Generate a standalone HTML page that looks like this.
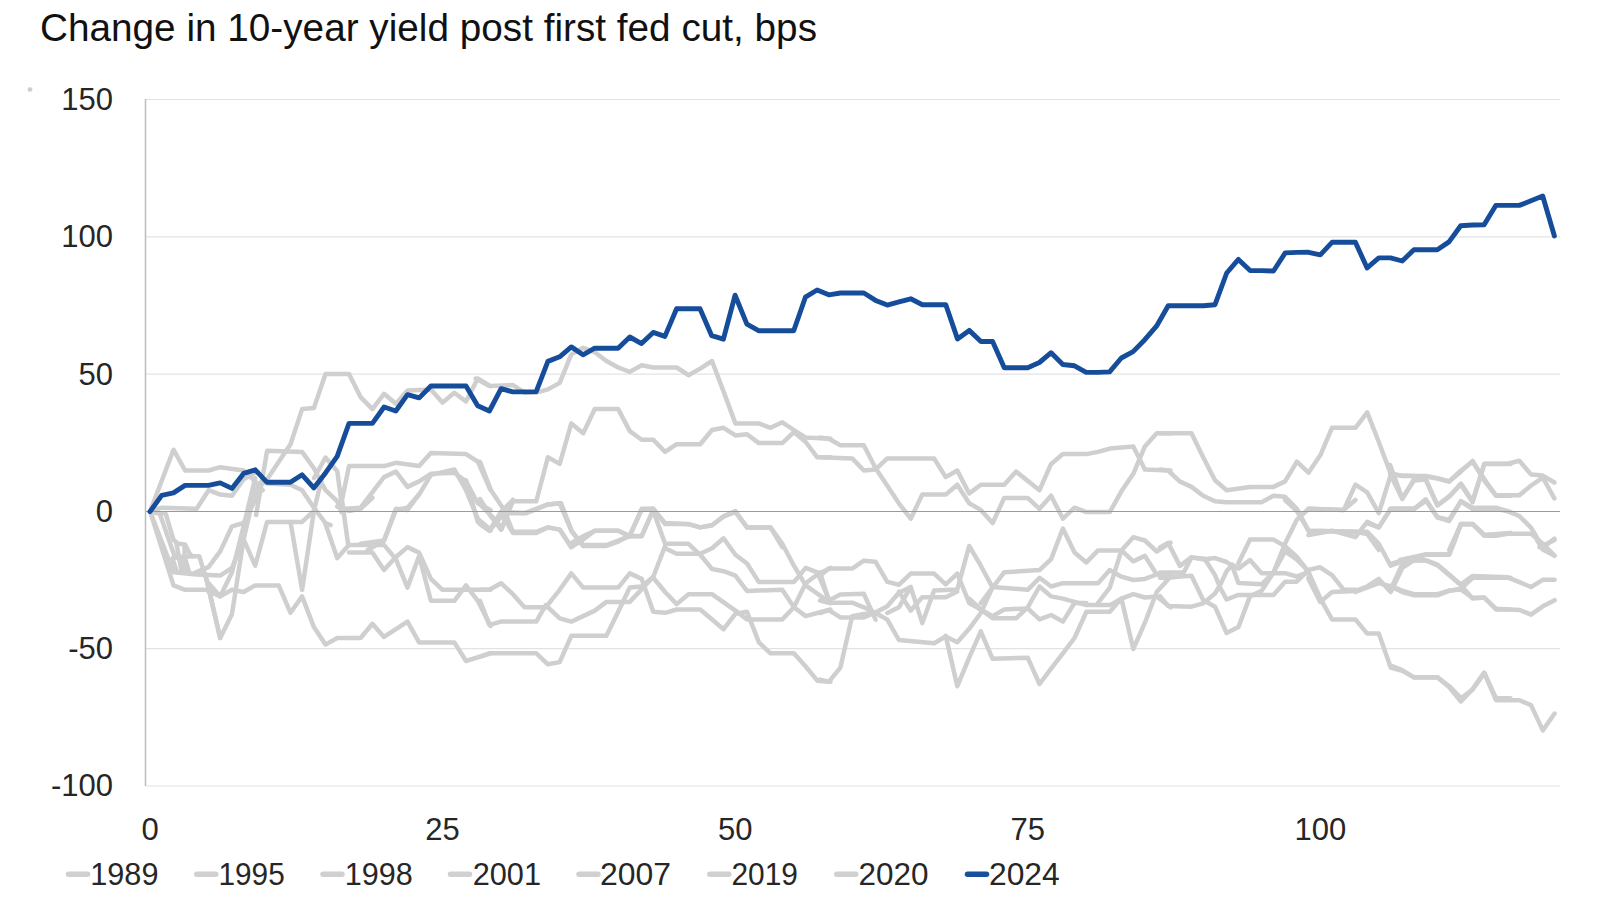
<!DOCTYPE html>
<html><head><meta charset="utf-8"><style>
html,body{margin:0;padding:0;background:#fff;}
svg{display:block;font-family:"Liberation Sans",sans-serif;}
</style></head><body>
<svg width="1600" height="913" viewBox="0 0 1600 913">
<rect width="1600" height="913" fill="#fff"/>
<text x="40" y="41.3" font-size="38" text-anchor="start" fill="#111" textLength="777" lengthAdjust="spacingAndGlyphs">Change in 10-year yield post first fed cut, bps</text>
<line x1="146" y1="99.5" x2="1560" y2="99.5" stroke="#e3e3e3" stroke-width="1.2"/>
<line x1="146" y1="236.8" x2="1560" y2="236.8" stroke="#e3e3e3" stroke-width="1.2"/>
<line x1="146" y1="374.1" x2="1560" y2="374.1" stroke="#e3e3e3" stroke-width="1.2"/>
<line x1="146" y1="648.7" x2="1560" y2="648.7" stroke="#e3e3e3" stroke-width="1.2"/>
<line x1="146" y1="786.0" x2="1560" y2="786.0" stroke="#e3e3e3" stroke-width="1.2"/>
<line x1="145.5" y1="99" x2="145.5" y2="786" stroke="#bdbdbd" stroke-width="1.5"/>
<polyline points="150.1,511.4 173.5,449.7 185.1,470.5 208.6,470.5 220.2,467.2 243.6,470.5 255.2,481.4 262.7,490.2" fill="none" stroke="#cfcfcf" stroke-width="4.5" stroke-linejoin="round" stroke-linecap="round"/>
<polyline points="255.2,490.2 267.1,479.2 290.5,444.2 302.1,409.1 313.9,408.1 325.5,374.1 349.0,374.1 360.6,397.1 372.4,409.1 384.0,393.8 395.9,403.7 407.5,390.5 430.9,389.4 442.5,402.6 454.3,392.7 466.0,401.5 477.8,378.5 490.5,386.1" fill="none" stroke="#cfcfcf" stroke-width="4.5" stroke-linejoin="round" stroke-linecap="round"/>
<polyline points="256.1,515.0 267.1,450.8 302.1,451.9 313.9,468.3 325.5,490.2 337.2,501.2 341.5,512.1" fill="none" stroke="#cfcfcf" stroke-width="4.5" stroke-linejoin="round" stroke-linecap="round"/>
<polyline points="348.1,544.1 342.0,500.1 349.0,466.1 384.0,466.1 395.9,462.8 419.1,466.1 430.9,453.0 466.0,454.1 477.8,461.7 490.5,490.2" fill="none" stroke="#cfcfcf" stroke-width="4.5" stroke-linejoin="round" stroke-linecap="round"/>
<polyline points="344.8,508.8 360.6,507.7 384.0,477.1 395.9,471.6 407.5,486.9 419.1,481.4 430.9,473.8 454.3,472.7 466.0,481.4 477.8,503.3 490.5,509.9" fill="none" stroke="#cfcfcf" stroke-width="4.5" stroke-linejoin="round" stroke-linecap="round"/>
<polyline points="367.8,550.0 384.0,540.6 395.9,509.9 407.5,507.7 419.1,494.6 430.9,474.9 454.3,469.4 466.0,490.2 477.8,518.7 490.5,529.6" fill="none" stroke="#cfcfcf" stroke-width="4.5" stroke-linejoin="round" stroke-linecap="round"/>
<polyline points="267.1,483.6 290.5,484.7 302.1,490.2 313.9,507.7 325.5,523.1 330.6,525.2" fill="none" stroke="#cfcfcf" stroke-width="4.5" stroke-linejoin="round" stroke-linecap="round"/>
<polyline points="150.1,511.4 161.7,507.7 196.7,508.8 208.6,490.2 220.2,494.6 232.0,495.7 243.6,479.2 255.2,472.7" fill="none" stroke="#cfcfcf" stroke-width="4.5" stroke-linejoin="round" stroke-linecap="round"/>
<polyline points="150.1,511.4 173.5,585.4 185.1,589.8 205.7,589.8 220.2,596.4 232.0,589.8 243.6,592.0 255.2,585.4 278.7,585.4 290.5,612.8 302.1,596.4 313.9,627.1 325.5,644.6 337.2,638.0 360.6,638.0 372.4,623.8 384.0,636.9 407.5,621.6 419.1,642.4 454.3,642.4 466.0,661.0 490.5,653.3" fill="none" stroke="#cfcfcf" stroke-width="4.5" stroke-linejoin="round" stroke-linecap="round"/>
<polyline points="150.1,511.4 173.5,572.3 196.7,574.5 220.2,575.6 232.0,567.9 243.6,539.4 255.2,565.7 267.1,521.9 302.1,521.9 313.9,511.0 321.8,478.1" fill="none" stroke="#cfcfcf" stroke-width="4.5" stroke-linejoin="round" stroke-linecap="round"/>
<polyline points="290.5,521.9 302.1,589.8 313.9,511.0" fill="none" stroke="#cfcfcf" stroke-width="4.5" stroke-linejoin="round" stroke-linecap="round"/>
<polyline points="150.0,511.4 159.9,513.9 174.6,556.3 179.6,556.3 185.1,571.1 192.4,574.0 201.2,570.1 208.5,567.1 220.2,551.4 232.0,526.3 243.6,523.0 255.2,500.0 260.5,482.5" fill="none" stroke="#cfcfcf" stroke-width="4.5" stroke-linejoin="round" stroke-linecap="round"/>
<polyline points="150.0,511.4 165.8,513.9 173.4,539.6 177.6,543.5 185.1,544.5 189.4,553.3 192.4,556.3 199.3,556.3 203.2,569.1 207.1,580.9 211.1,598.7 220.2,638.0" fill="none" stroke="#cfcfcf" stroke-width="4.5" stroke-linejoin="round" stroke-linecap="round"/>
<polyline points="176.6,544.5 181.5,571.1" fill="none" stroke="#cfcfcf" stroke-width="4.5" stroke-linejoin="round" stroke-linecap="round"/>
<polyline points="184.5,545.5 184.5,556.3 189.4,573.1" fill="none" stroke="#cfcfcf" stroke-width="4.5" stroke-linejoin="round" stroke-linecap="round"/>
<polyline points="172.7,559.3 176.6,571.1" fill="none" stroke="#cfcfcf" stroke-width="4.5" stroke-linejoin="round" stroke-linecap="round"/>
<polyline points="205.7,576.7 220.2,638.0 232.0,613.9 243.6,539.4 255.2,489.0" fill="none" stroke="#cfcfcf" stroke-width="4.5" stroke-linejoin="round" stroke-linecap="round"/>
<polyline points="208.6,583.2 220.2,596.4 232.0,572.3 243.6,526.3 255.2,478.1" fill="none" stroke="#cfcfcf" stroke-width="4.5" stroke-linejoin="round" stroke-linecap="round"/>
<polyline points="325.5,524.1 337.2,558.1 349.0,544.9 384.0,544.9 395.9,559.1 407.5,587.6 419.1,555.9 430.9,600.8 454.3,600.8 466.0,585.4 477.8,600.8 490.5,626.0" fill="none" stroke="#cfcfcf" stroke-width="4.5" stroke-linejoin="round" stroke-linecap="round"/>
<polyline points="349.0,552.6 372.4,552.6 384.0,570.1 395.9,557.0 407.5,547.1 419.1,552.6 430.9,578.9 442.5,589.8 490.5,589.8" fill="none" stroke="#cfcfcf" stroke-width="4.5" stroke-linejoin="round" stroke-linecap="round"/>
<polyline points="337.2,506.6 349.0,511.0 360.6,508.8 372.4,497.8" fill="none" stroke="#cfcfcf" stroke-width="4.5" stroke-linejoin="round" stroke-linecap="round"/>
<polyline points="360.6,543.8 384.0,540.5 395.9,508.8 407.5,509.9 419.1,494.1" fill="none" stroke="#cfcfcf" stroke-width="4.5" stroke-linejoin="round" stroke-linecap="round"/>
<polyline points="466.0,480.3 477.8,521.9 490.5,530.7" fill="none" stroke="#cfcfcf" stroke-width="4.5" stroke-linejoin="round" stroke-linecap="round"/>
<polyline points="475.6,378.5 489.4,386.1 512.9,385.0 524.5,392.7 536.3,392.7 547.9,389.4 559.7,382.9 571.3,354.4 583.2,347.8 594.8,352.2 606.4,361.0 618.2,367.5 629.8,371.9 641.7,365.3 653.3,367.5 676.7,367.5 688.5,375.2 700.2,368.6 712.0,361.0 723.6,391.6 735.4,423.4 758.9,423.4 770.5,427.8 782.3,422.3 793.9,430.0 805.7,437.6 830.5,438.7" fill="none" stroke="#cfcfcf" stroke-width="4.5" stroke-linejoin="round" stroke-linecap="round"/>
<polyline points="480.0,461.7 491.0,490.2 504.1,509.9 512.9,531.8 536.3,531.8 547.9,527.4 559.7,529.6 571.3,547.2" fill="none" stroke="#cfcfcf" stroke-width="4.5" stroke-linejoin="round" stroke-linecap="round"/>
<polyline points="480.0,499.0 491.0,516.5 501.0,529.6" fill="none" stroke="#cfcfcf" stroke-width="4.5" stroke-linejoin="round" stroke-linecap="round"/>
<polyline points="501.0,529.6 512.9,501.2 536.3,501.2 547.9,457.3 559.7,463.9 571.3,423.4 583.2,433.2 594.8,409.1 618.2,409.1 629.8,431.1 641.7,439.8 653.3,439.8 665.1,451.9 676.7,444.2 700.2,444.2 712.0,430.0 723.6,427.8 735.4,435.4 747.0,434.3 758.9,443.1 782.3,443.1 793.9,432.1 805.7,442.0 817.3,457.3 830.5,457.3" fill="none" stroke="#cfcfcf" stroke-width="4.5" stroke-linejoin="round" stroke-linecap="round"/>
<polyline points="480.0,523.1 489.4,530.7 504.1,513.2 526.0,513.2 537.0,508.8 547.9,504.4 561.1,503.3 572.0,531.8 583.0,545.0 606.4,545.0 618.2,540.6 629.8,536.2 641.7,536.2 653.3,509.9" fill="none" stroke="#cfcfcf" stroke-width="4.5" stroke-linejoin="round" stroke-linecap="round"/>
<polyline points="572.0,542.8 583.2,536.2 594.8,530.7 618.2,530.7 629.8,536.2" fill="none" stroke="#cfcfcf" stroke-width="4.5" stroke-linejoin="round" stroke-linecap="round"/>
<polyline points="629.8,536.2 641.7,508.8 653.3,508.8 665.1,523.1 688.5,524.2 700.2,527.4 712.0,525.2 723.6,516.5 735.4,512.1 747.0,527.4 770.5,527.4 782.3,547.2" fill="none" stroke="#cfcfcf" stroke-width="4.5" stroke-linejoin="round" stroke-linecap="round"/>
<polyline points="480.0,524.1 489.4,530.7 501.0,512.0 512.9,500.0" fill="none" stroke="#cfcfcf" stroke-width="4.5" stroke-linejoin="round" stroke-linecap="round"/>
<polyline points="480.0,504.4 493.1,517.5 501.9,528.5 512.9,500.0" fill="none" stroke="#cfcfcf" stroke-width="4.5" stroke-linejoin="round" stroke-linecap="round"/>
<polyline points="501.0,513.1 512.9,532.9 536.3,532.9 547.9,527.4 559.7,529.6 571.3,547.1 583.2,539.4 594.8,530.7 618.2,530.7 629.8,536.1 641.7,536.1 653.3,509.9" fill="none" stroke="#cfcfcf" stroke-width="4.5" stroke-linejoin="round" stroke-linecap="round"/>
<polyline points="501.0,512.0 524.5,513.1 536.3,508.8 547.9,504.4 559.7,503.3 571.3,530.7 583.2,546.0 606.4,546.0 618.2,541.6 629.8,535.0 641.7,509.9 653.3,508.8 665.1,524.1 688.5,524.1 700.2,527.4 712.0,525.2 723.6,516.4 735.4,511.0 747.0,527.4 770.5,527.4 782.3,543.8 793.9,565.7 805.7,585.4 830.5,603.0" fill="none" stroke="#cfcfcf" stroke-width="4.5" stroke-linejoin="round" stroke-linecap="round"/>
<polyline points="653.3,511.0 665.1,543.8 688.5,543.8 700.2,554.8 712.0,569.0 723.6,571.2 735.4,575.6 747.0,590.9 782.3,589.8 793.9,607.3 805.7,616.1 830.5,609.5" fill="none" stroke="#cfcfcf" stroke-width="4.5" stroke-linejoin="round" stroke-linecap="round"/>
<polyline points="665.1,548.2 676.7,553.7 700.2,553.7 712.0,548.2 723.6,538.3 735.4,554.8 747.0,563.5 758.9,582.1 793.9,582.1 805.7,567.9 817.3,572.3 830.5,603.0" fill="none" stroke="#cfcfcf" stroke-width="4.5" stroke-linejoin="round" stroke-linecap="round"/>
<polyline points="480.0,589.8 489.4,589.8 501.0,583.2 512.9,594.2 524.5,607.3 545.7,607.3 559.7,589.8 571.3,573.4 583.2,587.6 618.2,587.6 629.8,573.4 641.7,578.9 653.3,611.7 665.1,612.8 676.7,609.5 700.2,609.5 723.6,629.2 735.4,613.9 747.0,611.7 758.9,642.4 770.5,653.3 793.9,653.3 805.7,666.5 817.3,680.7 830.5,681.8" fill="none" stroke="#cfcfcf" stroke-width="4.5" stroke-linejoin="round" stroke-linecap="round"/>
<polyline points="480.0,600.8 489.4,624.9 501.0,621.6 536.3,621.6 545.7,605.1 559.7,618.3 571.3,621.6 583.2,616.1 594.8,610.6 606.4,601.9 629.8,601.9 653.3,576.7 665.1,546.0" fill="none" stroke="#cfcfcf" stroke-width="4.5" stroke-linejoin="round" stroke-linecap="round"/>
<polyline points="653.3,577.8 665.1,592.0 676.7,604.1 688.5,594.2 712.0,594.2 735.4,610.6 747.0,619.4 782.3,619.4 793.9,607.3 805.7,583.2 817.3,574.5 830.5,567.9" fill="none" stroke="#cfcfcf" stroke-width="4.5" stroke-linejoin="round" stroke-linecap="round"/>
<polyline points="480.0,656.6 489.4,653.3 536.3,653.3 547.9,664.3 559.7,662.1 571.3,635.8 606.4,635.8 618.2,611.7 629.8,587.6 641.7,586.5 653.3,576.7" fill="none" stroke="#cfcfcf" stroke-width="4.5" stroke-linejoin="round" stroke-linecap="round"/>
<polyline points="820.0,437.6 828.8,438.7 840.4,445.3 863.8,445.3 875.6,468.3 887.3,485.8 898.9,503.3 910.7,518.7 922.3,494.6 945.7,494.6 957.3,484.7 969.2,503.3 980.8,509.9 992.6,523.1 1004.2,497.9 1027.7,497.9 1039.5,508.8 1051.1,495.7 1062.9,518.7 1074.5,507.7 1086.4,512.1 1109.8,512.1 1121.4,491.3 1133.3,473.8 1144.9,446.4 1156.7,433.2 1170.5,433.2" fill="none" stroke="#cfcfcf" stroke-width="4.5" stroke-linejoin="round" stroke-linecap="round"/>
<polyline points="820.0,457.3 852.2,458.4 863.8,470.5 875.6,469.4 887.3,458.4 934.1,458.4 945.7,477.1 957.3,470.5 969.2,493.5 980.8,484.7 1004.2,484.7 1016.1,471.6 1039.5,490.2 1051.1,463.9 1062.9,454.1 1086.4,454.1 1098.0,451.9 1109.8,448.6 1133.3,446.4 1144.9,469.4 1170.5,470.5" fill="none" stroke="#cfcfcf" stroke-width="4.5" stroke-linejoin="round" stroke-linecap="round"/>
<polyline points="820.0,679.6 828.8,681.8 840.4,667.6 852.2,616.1 863.8,613.9 875.6,613.0" fill="none" stroke="#cfcfcf" stroke-width="4.5" stroke-linejoin="round" stroke-linecap="round"/>
<polyline points="820.0,575.8 828.8,568.6 852.2,568.6 863.8,560.7 875.6,561.8 887.3,581.9 898.9,584.8 910.7,573.6 934.1,573.6 945.7,584.3 957.3,573.6 969.2,603.0 980.8,609.5 992.6,618.3 1016.1,618.3 1027.7,607.3 1039.5,586.5 1051.1,596.4 1062.9,598.6 1074.5,601.9 1086.4,605.1 1109.8,605.1 1121.4,598.6 1133.3,594.2 1144.9,597.5 1156.7,596.4 1170.5,607.3" fill="none" stroke="#cfcfcf" stroke-width="4.5" stroke-linejoin="round" stroke-linecap="round"/>
<polyline points="820.0,572.3 828.8,600.5 840.4,594.4 863.8,593.8 875.6,619.6" fill="none" stroke="#cfcfcf" stroke-width="4.5" stroke-linejoin="round" stroke-linecap="round"/>
<polyline points="820.0,600.5 828.8,602.7 852.2,602.7 863.8,607.3 875.6,613.0 887.3,619.6 898.9,640.0 934.1,643.3 945.7,636.5 957.3,642.2 969.2,628.8 980.8,613.0 992.6,587.0 1027.7,589.8 1039.5,577.8 1051.1,586.5 1062.9,583.2 1098.0,583.2 1109.8,570.1" fill="none" stroke="#cfcfcf" stroke-width="4.5" stroke-linejoin="round" stroke-linecap="round"/>
<polyline points="820.0,613.0 828.8,610.2 840.4,617.4 863.8,617.4 875.6,612.4 887.3,606.2 898.9,592.7 910.7,587.0 922.3,623.1 934.1,590.5 957.3,589.4 969.2,546.0 980.8,565.7 992.6,587.6" fill="none" stroke="#cfcfcf" stroke-width="4.5" stroke-linejoin="round" stroke-linecap="round"/>
<polyline points="887.3,613.0 898.9,607.3 910.7,587.0" fill="none" stroke="#cfcfcf" stroke-width="4.5" stroke-linejoin="round" stroke-linecap="round"/>
<polyline points="898.9,591.6 910.7,610.6 922.3,597.3 945.7,597.3 957.3,591.6" fill="none" stroke="#cfcfcf" stroke-width="4.5" stroke-linejoin="round" stroke-linecap="round"/>
<polyline points="980.8,603.0 1004.2,572.3 1039.5,570.1 1051.1,559.1 1062.9,528.5 1074.5,552.6 1086.4,562.4 1098.0,550.4 1121.4,550.4 1133.3,537.2 1144.9,540.5 1156.7,551.5 1170.5,542.7" fill="none" stroke="#cfcfcf" stroke-width="4.5" stroke-linejoin="round" stroke-linecap="round"/>
<polyline points="945.7,635.8 957.3,686.2 969.2,657.7 980.8,631.4 992.6,658.8 1027.7,657.7 1039.5,684.0 1051.1,668.7 1062.9,653.3 1074.5,638.0 1086.4,611.7 1109.8,611.7 1121.4,598.6 1133.3,649.0 1144.9,622.7 1156.7,592.0 1170.5,576.7" fill="none" stroke="#cfcfcf" stroke-width="4.5" stroke-linejoin="round" stroke-linecap="round"/>
<polyline points="969.2,598.6 980.8,609.5 992.6,616.1 1004.2,609.5 1027.7,608.4 1039.5,619.4 1051.1,615.0 1062.9,621.6 1074.5,603.0 1086.4,603.0" fill="none" stroke="#cfcfcf" stroke-width="4.5" stroke-linejoin="round" stroke-linecap="round"/>
<polyline points="1098.0,603.0 1109.8,587.6 1121.4,550.4 1133.3,561.3 1144.9,555.9 1156.7,574.5 1170.5,574.5" fill="none" stroke="#cfcfcf" stroke-width="4.5" stroke-linejoin="round" stroke-linecap="round"/>
<polyline points="1109.8,570.1 1121.4,576.7 1133.3,580.0 1144.9,578.9 1156.7,574.5 1170.5,574.5" fill="none" stroke="#cfcfcf" stroke-width="4.5" stroke-linejoin="round" stroke-linecap="round"/>
<polyline points="1160.0,433.2 1191.5,433.2 1203.2,457.3 1215.0,480.3 1226.6,490.2 1250.0,486.9 1273.5,486.9 1285.1,481.4 1296.9,461.7 1308.5,472.7 1320.4,455.1 1332.0,427.8 1355.4,427.8 1367.2,412.4 1378.8,442.0 1390.7,473.8 1402.3,476.0 1425.7,476.0 1437.5,478.1 1449.2,481.4 1461.0,470.5 1472.6,461.7 1484.4,479.2 1496.0,495.7 1510.5,495.7" fill="none" stroke="#cfcfcf" stroke-width="4.5" stroke-linejoin="round" stroke-linecap="round"/>
<polyline points="1160.0,469.4 1168.1,470.5 1179.7,481.4 1191.5,486.9 1203.2,495.7 1215.0,501.2 1226.6,502.2 1261.6,502.2 1273.5,495.7 1285.1,496.8 1296.9,508.8 1308.5,530.7 1355.4,531.8 1367.2,534.0 1378.8,550.0" fill="none" stroke="#cfcfcf" stroke-width="4.5" stroke-linejoin="round" stroke-linecap="round"/>
<polyline points="1308.5,508.8 1343.8,509.9 1355.4,484.7 1367.2,492.4 1378.8,513.2 1390.7,474.9 1402.3,499.0 1414.1,479.2 1425.7,479.2 1437.5,505.5 1449.2,496.8 1461.0,483.6 1472.6,501.2 1484.4,463.9 1510.5,463.9" fill="none" stroke="#cfcfcf" stroke-width="4.5" stroke-linejoin="round" stroke-linecap="round"/>
<polyline points="1367.2,523.1 1378.8,527.4 1390.7,508.8 1414.1,508.8 1425.7,500.1 1437.5,517.6 1449.2,519.8 1461.0,501.2 1472.6,507.7 1496.0,507.7 1510.5,512.1" fill="none" stroke="#cfcfcf" stroke-width="4.5" stroke-linejoin="round" stroke-linecap="round"/>
<polyline points="1449.2,550.0 1461.0,524.2 1472.6,524.2 1484.4,535.1 1496.0,535.1 1510.5,532.9" fill="none" stroke="#cfcfcf" stroke-width="4.5" stroke-linejoin="round" stroke-linecap="round"/>
<polyline points="1160.0,547.5 1168.1,542.9 1179.9,565.9 1191.5,557.4 1204.7,558.7 1215.0,575.1 1220.5,588.3 1226.6,599.5 1238.4,594.9 1273.5,594.9 1285.1,581.7 1296.7,581.7 1308.5,569.9 1320.1,567.3 1332.0,575.1 1343.8,589.8 1355.4,589.8" fill="none" stroke="#cfcfcf" stroke-width="4.5" stroke-linejoin="round" stroke-linecap="round"/>
<polyline points="1160.0,572.5 1183.7,572.5 1191.5,557.4" fill="none" stroke="#cfcfcf" stroke-width="4.5" stroke-linejoin="round" stroke-linecap="round"/>
<polyline points="1160.0,577.8 1168.1,577.8 1179.9,576.5 1191.5,575.8 1203.2,600.1 1215.0,606.7 1226.6,633.0 1238.4,627.1 1250.0,596.2 1261.6,590.9 1273.5,572.5 1285.1,543.6 1296.7,519.9 1308.5,508.8 1343.8,509.9 1355.4,500.0" fill="none" stroke="#cfcfcf" stroke-width="4.5" stroke-linejoin="round" stroke-linecap="round"/>
<polyline points="1160.0,596.2 1168.1,606.0 1191.5,606.7 1203.2,603.4 1215.0,593.5 1220.5,584.3 1226.6,571.2 1232.3,564.6 1238.4,568.6 1250.0,560.0 1261.6,573.2 1285.1,573.2 1296.7,576.5 1308.5,572.5" fill="none" stroke="#cfcfcf" stroke-width="4.5" stroke-linejoin="round" stroke-linecap="round"/>
<polyline points="1191.5,557.4 1203.2,559.4 1215.0,558.1 1226.6,562.0 1232.3,565.9 1238.4,583.0 1261.6,584.3 1273.5,572.5 1285.1,551.5 1296.7,559.4 1308.5,571.2" fill="none" stroke="#cfcfcf" stroke-width="4.5" stroke-linejoin="round" stroke-linecap="round"/>
<polyline points="1238.4,563.3 1250.0,539.6 1273.5,539.6 1285.1,546.2 1296.7,556.7 1308.5,571.9 1320.4,598.6 1332.0,619.4 1355.4,619.4 1367.2,633.6 1378.8,633.6 1390.7,667.6 1402.3,670.9 1414.1,677.4 1437.5,677.4 1449.2,686.2 1461.0,698.2 1472.6,689.5 1484.4,673.1 1496.0,698.2 1510.5,698.2" fill="none" stroke="#cfcfcf" stroke-width="4.5" stroke-linejoin="round" stroke-linecap="round"/>
<polyline points="1285.1,500.0 1296.9,511.0 1308.5,530.7 1355.4,531.8 1367.2,531.8 1378.8,543.8 1390.7,565.7 1402.3,561.3 1425.7,554.8 1449.2,554.8 1461.0,524.1 1472.6,524.1 1484.4,535.0 1510.5,532.9" fill="none" stroke="#cfcfcf" stroke-width="4.5" stroke-linejoin="round" stroke-linecap="round"/>
<polyline points="1308.5,577.8 1320.1,601.4" fill="none" stroke="#cfcfcf" stroke-width="4.5" stroke-linejoin="round" stroke-linecap="round"/>
<polyline points="1308.5,535.0 1332.0,530.7 1355.4,537.2 1367.2,521.9 1378.8,527.4 1390.7,508.8 1414.1,508.8 1425.7,501.1" fill="none" stroke="#cfcfcf" stroke-width="4.5" stroke-linejoin="round" stroke-linecap="round"/>
<polyline points="1308.5,578.9 1320.4,601.9 1332.0,592.0 1355.4,590.9 1367.2,586.5 1378.8,578.9 1390.7,592.0 1402.3,567.9 1414.1,560.2 1425.7,560.2 1437.5,564.6 1449.2,574.5 1461.0,585.4 1472.6,598.6 1484.4,597.5 1496.0,609.5 1510.5,609.5" fill="none" stroke="#cfcfcf" stroke-width="4.5" stroke-linejoin="round" stroke-linecap="round"/>
<polyline points="1355.4,592.0 1378.8,583.2 1390.7,586.5 1402.3,592.0 1414.1,595.3 1437.5,595.3 1449.2,590.9 1461.0,588.7 1472.6,577.8 1510.5,577.8" fill="none" stroke="#cfcfcf" stroke-width="4.5" stroke-linejoin="round" stroke-linecap="round"/>
<polyline points="1390.0,473.7 1402.2,475.6 1425.7,476.6 1437.3,478.6 1449.1,481.5 1460.8,471.7 1472.6,460.8 1484.2,480.6 1495.9,495.3 1519.3,495.3 1531.2,485.5 1542.8,477.6 1554.4,498.3" fill="none" stroke="#cfcfcf" stroke-width="4.5" stroke-linejoin="round" stroke-linecap="round"/>
<polyline points="1390.0,464.8 1402.2,498.3 1414.1,480.6 1425.7,479.6 1437.3,505.2 1449.1,496.3 1460.8,484.5 1472.6,502.2 1484.2,463.8 1507.7,463.8 1519.3,460.8 1531.2,474.6 1542.8,475.6 1554.4,482.5" fill="none" stroke="#cfcfcf" stroke-width="4.5" stroke-linejoin="round" stroke-linecap="round"/>
<polyline points="1390.0,509.1 1414.1,509.1 1425.7,499.3 1437.3,517.0 1449.1,521.0 1460.8,501.3 1472.6,509.1 1495.9,509.1 1507.7,511.1 1519.3,516.0 1531.2,527.9 1542.8,547.6 1554.4,538.7" fill="none" stroke="#cfcfcf" stroke-width="4.5" stroke-linejoin="round" stroke-linecap="round"/>
<polyline points="1399.9,560.0 1425.7,554.5 1449.1,554.5 1460.8,523.9 1472.6,523.9 1484.2,535.8 1495.9,535.8 1507.7,533.8 1531.2,533.8 1542.8,543.6 1554.4,555.5" fill="none" stroke="#cfcfcf" stroke-width="4.5" stroke-linejoin="round" stroke-linecap="round"/>
<polyline points="1390.0,564.1 1402.3,560.5 1425.7,560.5 1437.5,565.3 1449.0,574.9 1460.8,584.6 1472.4,576.1 1507.6,577.3 1519.4,582.2 1531.0,587.0 1542.8,579.8 1554.6,579.8" fill="none" stroke="#cfcfcf" stroke-width="4.5" stroke-linejoin="round" stroke-linecap="round"/>
<polyline points="1390.0,590.6 1402.3,564.1 1413.9,558.1 1425.7,554.5 1449.0,554.5 1455.1,540.0" fill="none" stroke="#cfcfcf" stroke-width="4.5" stroke-linejoin="round" stroke-linecap="round"/>
<polyline points="1390.0,585.8 1402.3,590.6 1413.9,594.2 1437.5,594.2 1449.0,590.6 1460.8,589.4 1472.4,597.8 1484.2,597.8 1496.0,608.7 1519.4,609.9 1531.0,614.7 1542.8,606.3 1554.6,600.2" fill="none" stroke="#cfcfcf" stroke-width="4.5" stroke-linejoin="round" stroke-linecap="round"/>
<polyline points="1390.0,665.3 1402.3,670.1 1413.9,677.3 1437.5,677.3 1449.0,687.0 1460.8,701.4 1472.4,689.4 1484.2,672.5 1496.0,700.2 1519.4,700.2 1531.0,705.1 1542.8,730.4 1554.6,713.5" fill="none" stroke="#cfcfcf" stroke-width="4.5" stroke-linejoin="round" stroke-linecap="round"/>
<polyline points="1537.0,540.0 1542.8,549.6 1554.6,555.7" fill="none" stroke="#cfcfcf" stroke-width="4.5" stroke-linejoin="round" stroke-linecap="round"/>
<polyline points="1539.4,547.2 1554.6,540.0" fill="none" stroke="#cfcfcf" stroke-width="4.5" stroke-linejoin="round" stroke-linecap="round"/>
<polyline points="314.0,478.0 325.5,457.5 337.3,471.3 341.3,501.0 344.0,512.0" fill="none" stroke="#cfcfcf" stroke-width="4.5" stroke-linejoin="round" stroke-linecap="round"/>
<polyline points="29.8,89.5 30.2,89.5" fill="none" stroke="#cfcfcf" stroke-width="4.5" stroke-linejoin="round" stroke-linecap="round"/>
<polyline points="172.7,558.0 182.0,557.0 192.4,556.3" fill="none" stroke="#cfcfcf" stroke-width="4.5" stroke-linejoin="round" stroke-linecap="round"/>
<line x1="146" y1="511.5" x2="1560" y2="511.5" stroke="#9a9a9a" stroke-width="1.2"/>
<polyline points="150.0,511.6 161.7,495.4 173.4,492.9 185.1,485.4 196.8,485.4 208.5,485.4 220.2,482.9 231.9,488.4 243.6,473.4 255.3,469.8 267.0,482.3 278.7,482.3 290.4,482.3 302.1,474.8 313.8,487.9 325.5,472.9 337.2,456.4 349.0,423.4 360.7,423.4 372.4,423.4 384.1,407.0 395.8,411.0 407.5,394.6 419.2,397.9 430.9,386.0 442.6,386.0 454.3,386.0 466.0,386.0 477.7,405.7 489.4,411.0 501.1,388.7 512.8,391.9 524.5,391.9 536.2,391.6 547.9,361.4 559.6,356.8 571.3,346.9 583.0,354.8 594.7,348.2 606.4,348.2 618.1,348.2 629.8,337.0 641.5,343.6 653.2,332.4 664.9,336.4 676.6,308.8 688.3,308.8 700.0,308.8 711.7,335.7 723.4,339.2 735.1,295.2 746.9,324.1 758.6,330.7 770.3,330.7 782.0,330.7 793.7,330.7 805.4,297.2 817.1,290.0 828.8,294.8 840.5,293.0 852.2,293.0 863.9,293.0 875.6,300.4 887.3,305.1 899.0,301.9 910.7,298.8 922.4,304.7 934.1,304.7 945.8,304.7 957.5,338.9 969.2,330.4 980.9,341.5 992.6,341.5 1004.3,367.8 1016.0,367.8 1027.7,367.8 1039.4,362.5 1051.1,352.7 1062.8,364.5 1074.5,365.8 1086.2,372.4 1097.9,372.4 1109.6,371.9 1121.3,358.0 1133.1,351.6 1144.8,339.7 1156.5,326.2 1168.2,305.8 1179.9,305.8 1191.6,305.8 1203.3,305.8 1215.0,304.7 1226.7,273.0 1238.4,259.4 1250.1,270.6 1261.8,270.6 1273.5,271.0 1285.2,252.9 1296.9,252.4 1308.6,252.3 1320.3,254.8 1332.0,242.3 1343.7,242.3 1355.4,242.3 1367.1,267.9 1378.8,257.9 1390.5,257.9 1402.2,261.0 1413.9,249.8 1425.6,249.8 1437.3,249.8 1449.0,241.9 1460.7,225.7 1472.4,225.0 1484.1,224.8 1495.8,205.4 1507.5,205.4 1519.3,205.4 1531.0,200.8 1542.7,196.0 1554.4,236.0" fill="none" stroke="#164d9b" stroke-width="4.9" stroke-linejoin="round" stroke-linecap="round"/>
<text x="113" y="109.9" font-size="31" text-anchor="end" fill="#262626">150</text>
<text x="113" y="247.20000000000002" font-size="31" text-anchor="end" fill="#262626">100</text>
<text x="113" y="384.5" font-size="31" text-anchor="end" fill="#262626">50</text>
<text x="113" y="521.9" font-size="31" text-anchor="end" fill="#262626">0</text>
<text x="113" y="659.1" font-size="31" text-anchor="end" fill="#262626">-50</text>
<text x="113" y="796.4" font-size="31" text-anchor="end" fill="#262626">-100</text>
<text x="150.0" y="840" font-size="31" text-anchor="middle" fill="#262626">0</text>
<text x="442.575" y="840" font-size="31" text-anchor="middle" fill="#262626">25</text>
<text x="735.15" y="840" font-size="31" text-anchor="middle" fill="#262626">50</text>
<text x="1027.725" y="840" font-size="31" text-anchor="middle" fill="#262626">75</text>
<text x="1320.3" y="840" font-size="31" text-anchor="middle" fill="#262626">100</text>
<line x1="68.5" y1="874.3" x2="87.5" y2="874.3" stroke="#d0d0d0" stroke-width="5.5" stroke-linecap="round"/>
<text x="90.25" y="885" font-size="31" text-anchor="start" fill="#262626" textLength="68.25" lengthAdjust="spacingAndGlyphs">1989</text>
<line x1="196.75" y1="874.3" x2="215.75" y2="874.3" stroke="#d0d0d0" stroke-width="5.5" stroke-linecap="round"/>
<text x="218.5" y="885" font-size="31" text-anchor="start" fill="#262626" textLength="66.25" lengthAdjust="spacingAndGlyphs">1995</text>
<line x1="323" y1="874.3" x2="342" y2="874.3" stroke="#d0d0d0" stroke-width="5.5" stroke-linecap="round"/>
<text x="344.75" y="885" font-size="31" text-anchor="start" fill="#262626" textLength="68.0" lengthAdjust="spacingAndGlyphs">1998</text>
<line x1="450.5" y1="874.3" x2="469.5" y2="874.3" stroke="#d0d0d0" stroke-width="5.5" stroke-linecap="round"/>
<text x="472.75" y="885" font-size="31" text-anchor="start" fill="#262626" textLength="68.25" lengthAdjust="spacingAndGlyphs">2001</text>
<line x1="579" y1="874.3" x2="598" y2="874.3" stroke="#d0d0d0" stroke-width="5.5" stroke-linecap="round"/>
<text x="600" y="885" font-size="31" text-anchor="start" fill="#262626" textLength="71" lengthAdjust="spacingAndGlyphs">2007</text>
<line x1="709.75" y1="874.3" x2="728.75" y2="874.3" stroke="#d0d0d0" stroke-width="5.5" stroke-linecap="round"/>
<text x="731.5" y="885" font-size="31" text-anchor="start" fill="#262626" textLength="66.5" lengthAdjust="spacingAndGlyphs">2019</text>
<line x1="836.75" y1="874.3" x2="855.75" y2="874.3" stroke="#d0d0d0" stroke-width="5.5" stroke-linecap="round"/>
<text x="858.5" y="885" font-size="31" text-anchor="start" fill="#262626" textLength="70.0" lengthAdjust="spacingAndGlyphs">2020</text>
<line x1="967.5" y1="874.3" x2="986.5" y2="874.3" stroke="#17509d" stroke-width="5.5" stroke-linecap="round"/>
<text x="989" y="885" font-size="31" text-anchor="start" fill="#262626" textLength="70.75" lengthAdjust="spacingAndGlyphs">2024</text>
</svg></body></html>
